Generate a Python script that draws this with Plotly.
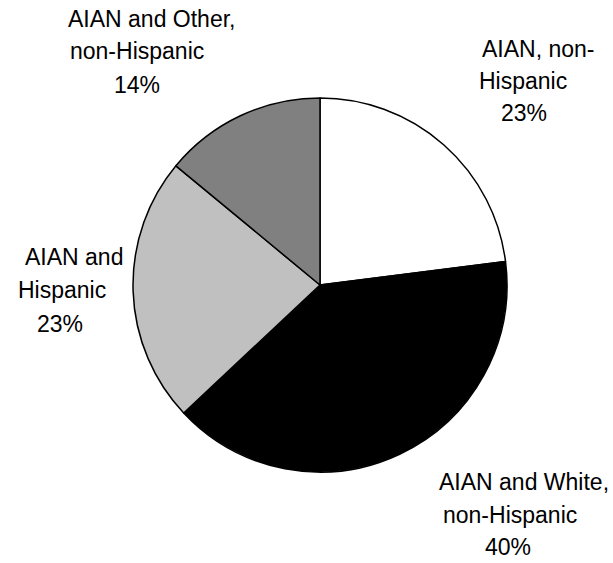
import plotly.graph_objects as go

W, H = 613, 563

categories = [
    "AIAN, non-Hispanic",
    "AIAN and White, non-Hispanic",
    "AIAN and Hispanic",
    "AIAN and Other, non-Hispanic",
]
shares = [23, 40, 23, 14]
colors = ["#FFFFFF", "#000000", "#C0C0C0", "#808080"]

# label text broken into lines as in the original chart
label_lines = [
    ["AIAN, non-", "Hispanic"],
    ["AIAN and White,", "non-Hispanic"],
    ["AIAN and", "Hispanic"],
    ["AIAN and Other,", "non-Hispanic"],
]
# pixel centre of each text line (label lines + percentage line)
label_pos = [
    [(538, 49), (523, 81), (524, 113)],
    [(524, 482), (510, 515), (508, 547)],
    [(74, 257), (62, 290), (60, 324)],
    [(151, 19), (137, 51), (137, 85)],
]

fig = go.Figure(go.Pie(
    labels=categories,
    values=shares,
    sort=False,
    direction="clockwise",
    rotation=0,
    marker=dict(colors=colors, line=dict(color="#000000", width=1.5)),
    textinfo="none",
    hoverinfo="label+percent",
    showlegend=False,
    domain=dict(x=[133 / W, 507 / W], y=[1 - 472 / H, 1 - 98 / H]),
))

for lines, pos, v in zip(label_lines, label_pos, shares):
    texts = lines + [f"{v}%"]
    for t, (px, py) in zip(texts, pos):
        fig.add_annotation(
            text=t, x=px / W, y=1 - py / H,
            xref="paper", yref="paper",
            xanchor="center", yanchor="middle",
            showarrow=False,
            font=dict(family="Liberation Sans, Arial", size=23, color="#000000"),
        )

fig.update_layout(
    width=W, height=H,
    margin=dict(l=0, r=0, t=0, b=0),
    paper_bgcolor="white",
    plot_bgcolor="white",
)

# drop the browser's default 8px body margin so the figure fills the window
fig.write_html(
    "out.html",
    config={"displayModeBar": False},
    post_script="document.body.style.margin='0';",
)
